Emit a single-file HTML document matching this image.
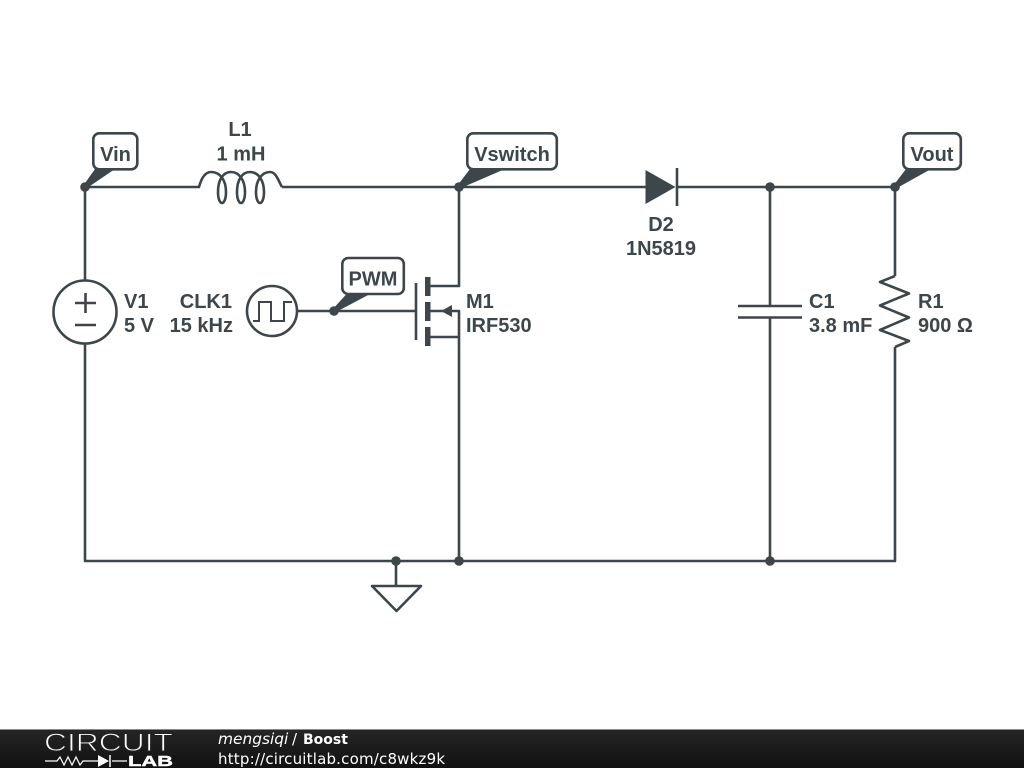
<!DOCTYPE html>
<html>
<head>
<meta charset="utf-8">
<style>
html,body{margin:0;padding:0;background:#fff;width:1024px;height:768px;overflow:hidden}
svg{display:block}
.w{fill:none;stroke:#3c464b;stroke-width:2.6;stroke-linejoin:round}
.t{font-family:"Liberation Sans",sans-serif;font-weight:bold;font-size:20px;fill:#3c464b}
.m{text-anchor:middle}
.e{text-anchor:end}
.d{fill:#3c464b}
.f{font-family:"DejaVu Sans",sans-serif;fill:#fff}
</style>
</head>
<body>
<svg width="1024" height="768" viewBox="0 0 1024 768" xmlns="http://www.w3.org/2000/svg">
<defs>
<linearGradient id="g" x1="0" y1="0" x2="0" y2="1">
<stop offset="0" stop-color="#262626"/>
<stop offset="1" stop-color="#111"/>
</linearGradient>
</defs>
<rect width="1024" height="768" fill="#fff"/>

<!-- wires -->
<path class="w" d="M85 280V187H200M282 187H646M677 187H895V276M895 347V561H85V344"/>
<path class="w" d="M459 187V286H430M459 561V311H430M459 337H430"/>
<path class="w" d="M297 311H416"/>
<path class="w" d="M770 187V306M770 317.500V561"/>
<path class="w" d="M396 561V586"/>

<!-- inductor -->
<path class="w" d="M199 187C202 176 206 172 211 172C220 172 226 180 226 192C226 199 224 203 222 203C220 203 218 199 218 192C218 180 223 172 231 172C239 172 245 180 245 192C245 199 243 203 241 203C239 203 237 199 237 192C237 180 242 172 250 172C258 172 264 180 264 192C264 199 262 203 260 203C258 203 256 199 256 192C256 180 262 172 270 172C276 172 278 180 282 187"/>

<!-- V1 -->
<circle class="w" cx="85" cy="312" r="31.500"/>
<path class="w" d="M75 303H96M85.500 293V313M75 325H96"/>

<!-- clock -->
<circle class="w" cx="272" cy="311" r="25"/>
<path d="M253 321H259V302H271V321H284V302H292" fill="none" stroke="#3c464b" stroke-width="2"/>

<!-- mosfet -->
<path class="w" d="M416 283V340"/>
<rect class="d" x="425" y="277" width="5.500" height="19"/>
<rect class="d" x="425" y="302" width="5.500" height="19"/>
<rect class="d" x="425" y="327" width="5.500" height="19"/>
<polygon class="d" points="441,311 452,305 452,317"/>

<!-- diode -->
<polygon class="d" points="645.500,170 675.500,187 645.500,204"/>
<path class="w" d="M677 168V206"/>

<!-- capacitor -->
<path class="w" d="M738 306H802M738 317.500H802"/>

<!-- resistor -->
<path class="w" d="M895 276L880 282L909 293.500L880 305.500L909 317.500L880 330L909 341L895 347"/>

<!-- ground -->
<polygon class="w" points="372,586 421,586 396.500,611"/>

<!-- junctions -->
<circle class="d" cx="85" cy="187" r="4.800"/>
<circle class="d" cx="459" cy="187" r="4.800"/>
<circle class="d" cx="770" cy="187" r="4.800"/>
<circle class="d" cx="895" cy="187" r="4.800"/>
<circle class="d" cx="334" cy="311" r="4.800"/>
<circle class="d" cx="396" cy="561" r="4.800"/>
<circle class="d" cx="459" cy="561" r="4.800"/>
<circle class="d" cx="770" cy="561" r="4.800"/>

<!-- tags -->
<rect x="93.300" y="133.300" width="44" height="36" rx="6" fill="#fff" stroke="#3c464b" stroke-width="2.600"/>
<polygon class="d" points="83,186 95,169 115,169 87,188"/>
<text class="t m" x="115.500" y="161">Vin</text>

<rect x="467.300" y="133.300" width="89.500" height="36" rx="6" fill="#fff" stroke="#3c464b" stroke-width="2.600"/>
<polygon class="d" points="457,186 470,169 505,169 461,188"/>
<text class="t m" x="512" y="161">Vswitch</text>

<rect x="903.300" y="133.300" width="57.500" height="36" rx="6" fill="#fff" stroke="#3c464b" stroke-width="2.600"/>
<polygon class="d" points="893,186 906,169 931,169 897,188"/>
<text class="t m" x="932" y="161">Vout</text>

<rect x="342.300" y="258" width="61.500" height="36" rx="6" fill="#fff" stroke="#3c464b" stroke-width="2.600"/>
<polygon class="d" points="332,310 347,293.500 371,293.500 336,312"/>
<text class="t m" x="373" y="285.500">PWM</text>

<!-- labels -->
<text class="t m" x="240" y="136">L1</text>
<text class="t m" x="241" y="160.500">1 mH</text>
<text class="t" x="124" y="308">V1</text>
<text class="t" x="124" y="332">5 V</text>
<text class="t e" x="232" y="308">CLK1</text>
<text class="t e" x="233" y="332">15 kHz</text>
<text class="t" x="466" y="308">M1</text>
<text class="t" x="466" y="332">IRF530</text>
<text class="t m" x="661" y="231">D2</text>
<text class="t m" x="661" y="255">1N5819</text>
<text class="t" x="809" y="308">C1</text>
<text class="t" x="809" y="332">3.8 mF</text>
<text class="t" x="918" y="308">R1</text>
<text class="t" x="918" y="332">900 Ω</text>

<!-- footer -->
<rect x="0" y="729" width="1024" height="39" fill="url(#g)"/>
<rect x="0" y="729" width="1024" height="1" fill="#8a8a8a"/>
<text x="44" y="751" font-family="Liberation Sans,sans-serif" font-size="25" fill="#fff" stroke="#222" stroke-width="0.900" textLength="129" lengthAdjust="spacingAndGlyphs">CIRCUIT</text>
<path d="M45 761H57L60 757L64 765L68 757L72 765L76 757L80 765L83 761H98M112 761H127" fill="none" stroke="#fff" stroke-width="1.200"/>
<polygon points="98,755 109,761 98,767" fill="#fff"/>
<path d="M110 755V767" stroke="#fff" stroke-width="1.500"/>
<text x="128" y="766" font-family="Liberation Sans,sans-serif" font-weight="bold" font-size="15" fill="#fff" stroke="#fff" stroke-width="0.400" textLength="45" lengthAdjust="spacingAndGlyphs">LAB</text>
<text class="f" x="218" y="744" font-size="15.400" font-style="italic">mengsiqi</text>
<text class="f" x="292" y="744" font-size="15">/</text>
<text class="f" x="303" y="744" font-size="14" font-weight="bold">Boost</text>
<text class="f" x="218" y="764" font-size="15" textLength="227">http://circuitlab.com/c8wkz9k</text>
</svg>
</body>
</html>
